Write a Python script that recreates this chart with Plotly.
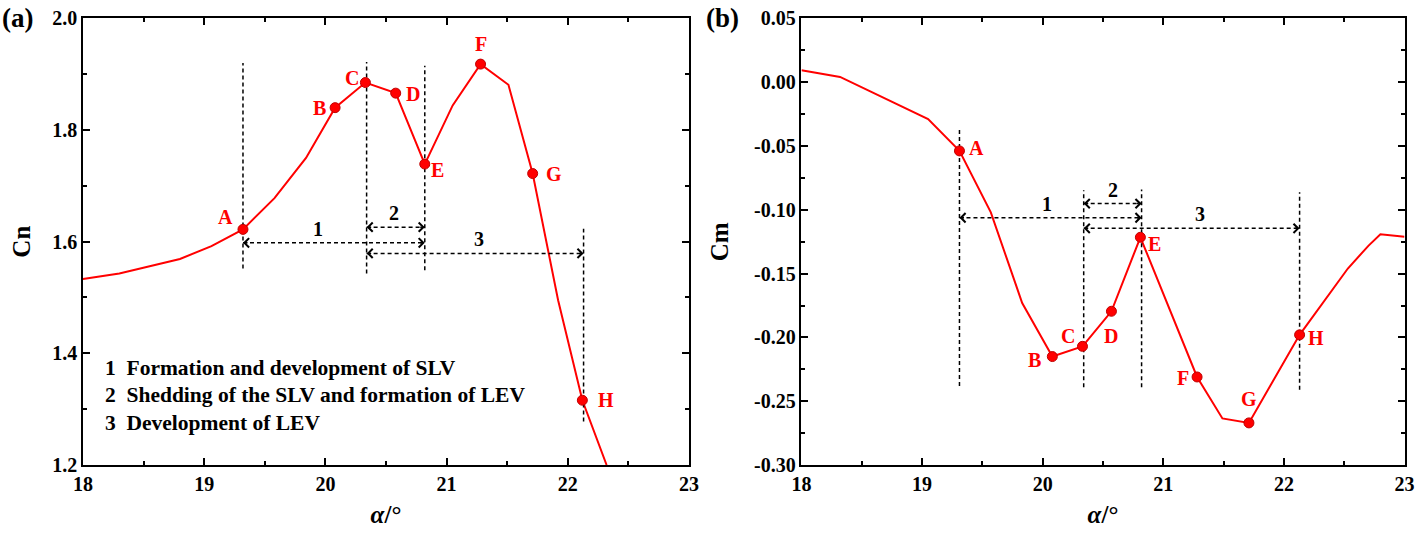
import plotly.graph_objects as go

# ---------------- data ----------------
alpha_cn = [18.0, 18.3, 18.8, 19.06, 19.32, 19.58, 19.84, 20.08, 20.33, 20.58, 20.82,
            21.05, 21.28, 21.51, 21.71, 21.92, 22.12, 22.32]
cn = [1.533, 1.543, 1.569, 1.592, 1.622, 1.678, 1.750, 1.840, 1.885, 1.866, 1.739,
      1.844, 1.918, 1.881, 1.722, 1.495, 1.316, 1.200]

alpha_cm = [18.0, 18.32, 19.05, 19.31, 19.57, 19.83, 20.08, 20.33, 20.57, 20.81,
            21.28, 21.49, 21.71, 22.13, 22.53, 22.70, 22.80, 23.0]
cm = [0.0095, 0.0042, -0.0288, -0.0538, -0.102, -0.173, -0.215, -0.207, -0.1795, -0.1215,
      -0.231, -0.2635, -0.267, -0.198, -0.146, -0.1282, -0.1192, -0.121]

point_labels = ["A", "B", "C", "D", "E", "F", "G", "H"]
key_idx_cn = [4, 7, 8, 9, 10, 12, 14, 16]
key_idx_cm = [3, 6, 7, 8, 9, 10, 12, 13]

# phase boundaries (alpha) and vertical extent of dashed markers
bound_cn = [19.32, 20.34, 20.82, 22.13]
bound_cn_lo = [1.552, 1.543, 1.549, 1.278]
bound_cn_hi = [1.920, 1.922, 1.915, 1.623]
bound_cm = [19.31, 20.34, 20.82, 22.13]
bound_cm_lo = [-0.238, -0.239, -0.239, -0.241]
bound_cm_hi = [-0.037, -0.0847, -0.084, -0.0863]

# phase spans: (start boundary index, end boundary index), level, label
phase_names = ["1", "2", "3"]
phase_span = [(0, 2), (1, 2), (1, 3)]
phase_level_cn = [1.598, 1.626, 1.579]
phase_level_cm = [-0.1062, -0.0951, -0.1145]

legend_lines = ["1\u00a0\u00a0Formation and development of SLV",
                "2\u00a0\u00a0Shedding of the SLV and formation of LEV",
                "3\u00a0\u00a0Development of LEV"]

x_ticks = [18, 19, 20, 21, 22, 23]
cn_ticks = [1.2, 1.4, 1.6, 1.8, 2.0]
cm_ticks = [-0.30, -0.25, -0.20, -0.15, -0.10, -0.05, 0.00, 0.05]

# ---------------- style ----------------
RED = "#ff0000"
FONT = "Liberation Serif"
lab_off_cn = {"A": (-17, 12), "B": (-16, 0), "C": (-13, 5), "D": (17, -1),
              "E": (13, -6), "F": (0, 20), "G": (21, 0), "H": (24, 0)}
lab_off_cm = {"A": (17, 3), "B": (-18, -3), "C": (-14, 10), "D": (0, -25),
              "E": (14, -7), "F": (-14, -1), "G": (0, 24), "H": (16, -3)}

fig = go.Figure()
annotations = []


def add_panel(xr, yr, xs, ys, idx, bounds, blo, bhi, levels, offs, num_fracs):
    fig.add_trace(go.Scatter(x=xs, y=ys, mode="lines", line=dict(color=RED, width=2),
                             xaxis=xr, yaxis=yr, showlegend=False, hoverinfo="skip"))
    for b, lo, hi in zip(bounds, blo, bhi):
        fig.add_trace(go.Scatter(x=[b, b], y=[lo, hi], mode="lines",
                                 line=dict(color="black", width=1.5, dash="4px,3px"),
                                 xaxis=xr, yaxis=yr, showlegend=False, hoverinfo="skip"))
    for (i0, i1), lev, name, fr in zip(phase_span, levels, phase_names, num_fracs):
        x0, x1 = bounds[i0], bounds[i1]
        fig.add_trace(go.Scatter(x=[x0, x1], y=[lev, lev], mode="lines",
                                 line=dict(color="black", width=1.5, dash="4px,3px"),
                                 xaxis=xr, yaxis=yr, showlegend=False, hoverinfo="skip"))
        d = 0.05
        for tip, tail in ((x0, x0 + d), (x1, x1 - d)):
            annotations.append(dict(x=tip, y=lev, ax=tail, ay=lev, xref=xr, yref=yr,
                                    axref=xr, ayref=yr, text="", showarrow=True,
                                    arrowhead=4, arrowsize=1.2, arrowwidth=1.5,
                                    arrowcolor="black", standoff=0, startstandoff=0))
        annotations.append(dict(x=x0 + (x1 - x0) * fr, y=lev, xref=xr, yref=yr,
                                text="<b>" + name + "</b>",
                                showarrow=False, yshift=14,
                                font=dict(family=FONT, size=20, color="black")))
    fig.add_trace(go.Scatter(x=[xs[i] for i in idx], y=[ys[i] for i in idx], mode="markers",
                             marker=dict(color=RED, size=10, line=dict(color="#c00000", width=1)),
                             xaxis=xr, yaxis=yr, showlegend=False, hoverinfo="skip"))
    for lab, i in zip(point_labels, idx):
        dx, dy = offs[lab]
        annotations.append(dict(x=xs[i], y=ys[i], xref=xr, yref=yr, text="<b>" + lab + "</b>",
                                showarrow=False, xshift=dx, yshift=dy,
                                font=dict(family=FONT, size=20, color=RED)))


add_panel("x", "y", alpha_cn, cn, key_idx_cn, bound_cn, bound_cn_lo, bound_cn_hi,
          phase_level_cn, lab_off_cn, [0.41, 0.47, 0.52])
add_panel("x2", "y2", alpha_cm, cm, key_idx_cm, bound_cm, bound_cm_lo, bound_cm_hi,
          phase_level_cm, lab_off_cm, [0.48, 0.5, 0.54])

# legend text (left panel)
for k, line in enumerate(legend_lines):
    annotations.append(dict(x=0.0727, y=0.317 - k * 0.0505, xref="paper", yref="paper",
                            xanchor="left", yanchor="middle", text="<b>" + line + "</b>",
                            showarrow=False,
                            font=dict(family=FONT, size=21.5, color="black")))

# panel tags
annotations.append(dict(x=0.0, y=0.967, xref="paper", yref="paper", xanchor="left",
                        yanchor="middle", text="<b>(a)</b>", showarrow=False,
                        font=dict(family=FONT, size=27, color="black")))
annotations.append(dict(x=0.497, y=0.967, xref="paper", yref="paper", xanchor="left",
                        yanchor="middle", text="<b>(b)</b>", showarrow=False,
                        font=dict(family=FONT, size=27, color="black")))

tickfont = dict(family=FONT, size=20, color="black")
titlefont = dict(family=FONT, size=25, color="black")


def axis_common(dt):
    return dict(ticks="inside", ticklen=7, tickwidth=1.5, tickcolor="black",
                showline=True, linecolor="black", linewidth=1.5, mirror="allticks",
                showgrid=False, zeroline=False, tickfont=tickfont, automargin=False,
                minor=dict(dtick=dt / 2, ticks="inside", ticklen=4, tickwidth=1.5,
                           tickcolor="black", showgrid=False))


def xaxis(domain, anchor):
    a = axis_common(1)
    a.update(domain=domain, anchor=anchor, range=[18, 23], tickmode="array",
             tickvals=x_ticks, ticktext=["<b>%d</b>" % v for v in x_ticks],
             title=dict(text="<b><i>α</i>/°</b>", font=titlefont, standoff=12))
    a["minor"].update(tick0=18)
    return a


def yaxis(domain, anchor, rng, vals, fmt, dt, title, standoff):
    a = axis_common(dt)
    a.update(domain=domain, anchor=anchor, range=rng, tickmode="array", tickvals=vals,
             ticktext=["<b>" + format(v, fmt) + "</b>" for v in vals],
             title=dict(text="<b>" + title + "</b>", font=titlefont, standoff=standoff))
    a["minor"].update(tick0=0)
    return a


fig.update_layout(
    width=1416, height=539, autosize=False,
    margin=dict(l=0, r=0, t=0, b=0),
    paper_bgcolor="white", plot_bgcolor="white",
    xaxis=xaxis([0.0586, 0.4866], "y"),
    yaxis=yaxis([0.1373, 0.966], "x", [1.2, 2.0], cn_ticks, ".1f", 0.2, "Cn", 14),
    xaxis2=xaxis([0.566, 0.9919], "y2"),
    yaxis2=yaxis([0.1373, 0.9657], "x2", [-0.30, 0.05], cm_ticks, ".2f", 0.05, "Cm", 18),
    annotations=annotations,
)

fig.write_html("out.html", config={"displayModeBar": False},
               post_script="document.body.style.margin='0';document.body.style.overflow='hidden';")
